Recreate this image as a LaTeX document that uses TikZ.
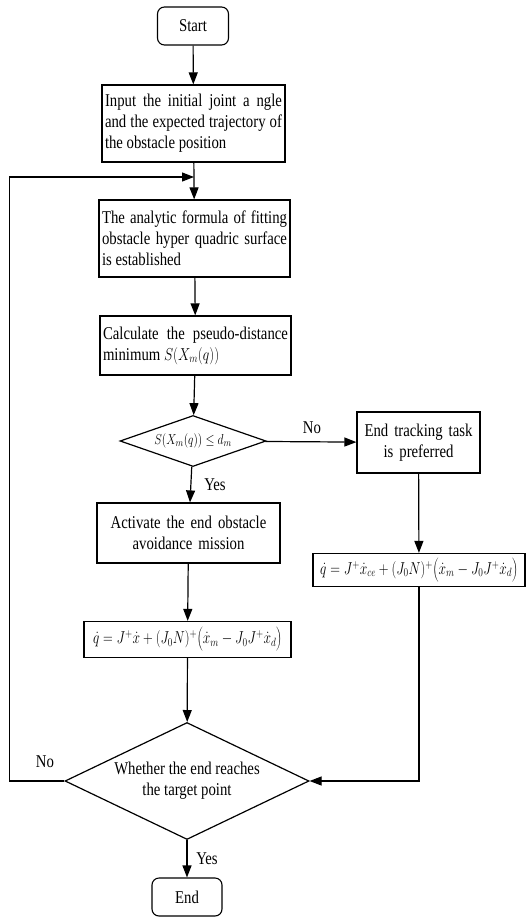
\documentclass[tikz,border=0pt]{standalone}
\usepackage{fontspec}
\setmainfont{Liberation Serif}[FakeStretch=0.82]
\usetikzlibrary{shapes.geometric,arrows.meta}

\begin{document}
\begin{tikzpicture}[x=1pt,y=-1pt,
    every node/.style={font=\fontsize{18}{21}\selectfont},
    term/.style={draw,line width=1.1pt,rounded corners=7pt,minimum width=71pt,minimum height=38pt},
    proc/.style={draw,line width=1.2pt,inner sep=3pt,align=justify},
    dec/.style={draw,diamond,line width=1.2pt,inner sep=0pt,align=center},
    line/.style={line width=1.2pt},
    arr/.style={line width=1.2pt,-{Triangle[length=12pt,width=9pt]}}]
  \useasboundingbox (0,0) rectangle (526,917);

  \node [term] (start) at (193,26) {Start};
  \node [proc,text width=177pt,minimum height=77pt] (input) at (193.5,123.5)
    {Input the initial joint a ngle\linebreak and the expected trajectory of\linebreak the obstacle position};
  \node [proc,text width=185pt,minimum height=77pt] (fit) at (194.5,238.5)
    {The analytic formula of fitting\linebreak obstacle hyper quadric surface\linebreak is established};
  \node [proc,text width=185pt,minimum height=59pt] (calc) at (195.5,345.5)
    {Calculate the pseudo-distance\linebreak minimum \scalebox{0.8}[1]{$S(X_m(q))$}};
  \node [dec,aspect=2.86,minimum width=146pt,minimum height=51pt,font=\fontsize{15}{18}\selectfont] (check) at (193,441)
    {\scalebox{0.8}[1]{$S(X_m(q))\le d_m$}};
  \node [proc,align=center,text width=117pt,minimum height=61pt] (track) at (418.5,442.5)
    {End tracking task\\is preferred};
  \node [proc,align=center,text width=177pt,minimum height=60pt] (avoid) at (188.5,533)
    {Activate the end obstacle\\avoidance mission};
  \node [proc,align=center,minimum width=207pt,minimum height=36pt,inner sep=1pt,font=\fontsize{18}{20}\selectfont] (law) at (187.5,639.5)
    {\scalebox{0.78}[1]{$\dot{q}=J^{+}\dot{x}+(J_0N)^{+}\bigg(\dot{x}_m-J_0J^{+}\dot{x}_d\bigg)$}};
  \node [proc,align=center,minimum width=212pt,minimum height=33pt,inner sep=1pt,font=\fontsize{18}{20}\selectfont] (lawce) at (419,570)
    {\scalebox{0.78}[1]{$\dot{q}=J^{+}\dot{x}_{ce}+(J_0N)^{+}\bigg(\dot{x}_m-J_0J^{+}\dot{x}_d\bigg)$}};
  \node [dec,aspect=2.09,minimum width=244pt,minimum height=117pt] (reach) at (187,781)
    {Whether the end reaches\\the target point};
  \node [term,minimum width=70pt] (stop) at (187,897) {End};

  \coordinate (join) at (194,177);

  \draw [arr] (start) -- (input);
  \draw [arr] (input) -- (fit);
  \draw [arr] (fit) -- (calc);
  \draw [arr] (calc) -- (check);
  \draw [arr] (check) -- (track);
  \draw [arr] (check) -- (avoid);
  \draw [arr] (avoid) -- (law);
  \draw [arr] (law) -- (reach);
  \draw [arr] (track) -- (lawce);
  \draw [arr] (lawce.south) |- (reach.east);
  \draw [arr] (reach.west) -- ++(-55,0) |- (join);
  \draw [arr] (reach) -- (stop);

  \node (no1) at (312,428) {No};
  \node (yes1) at (215,485) {Yes};
  \node (no2) at (45,762) {No};
  \node (yes2) at (207,859) {Yes};
\end{tikzpicture}
\end{document}
